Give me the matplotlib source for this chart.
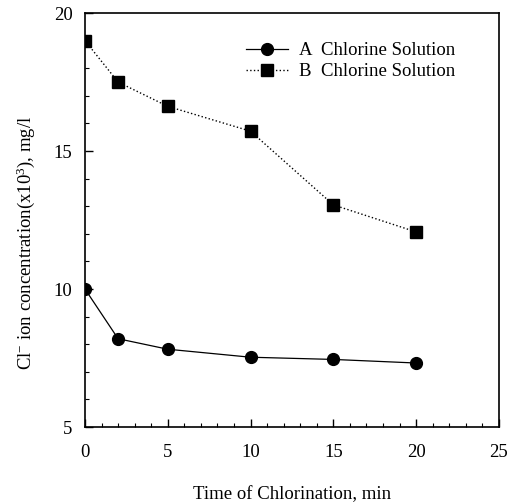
import matplotlib
matplotlib.use("Agg")
import matplotlib.pyplot as plt
from matplotlib.ticker import MultipleLocator

plt.rcParams['font.family'] = ['Liberation Serif', 'DejaVu Serif']
plt.rcParams['mathtext.fontset'] = 'custom'
plt.rcParams['mathtext.rm'] = 'Liberation Serif'
plt.rcParams['mathtext.it'] = 'Liberation Serif:italic'

time_a = [0, 2, 5, 10, 15, 20]
conc_a = [10.0, 8.2, 7.82, 7.53, 7.45, 7.32]
time_b = [0, 2, 5, 10, 15, 20]
conc_b = [19.0, 17.5, 16.62, 15.72, 13.05, 12.07]
label_a = "A  Chlorine Solution"
label_b = "B  Chlorine Solution"

fig = plt.figure(figsize=(5.17, 5.03), dpi=100)
ax = fig.add_axes([0.1644, 0.151, 0.8006, 0.823])

ax.plot(time_a, conc_a, color='black', lw=0.9, marker='o', ms=8.5, label=label_a)
ax.plot(time_b, conc_b, color='black', lw=1.0, ls=':', marker='s', ms=8, label=label_b)

ax.set_xlim(0, 25)
ax.set_ylim(5, 20)
ax.xaxis.set_major_locator(MultipleLocator(5))
ax.xaxis.set_minor_locator(MultipleLocator(1))
ax.yaxis.set_major_locator(MultipleLocator(5))
ax.yaxis.set_minor_locator(MultipleLocator(1))
ax.tick_params(which='both', direction='in', labelsize=13.5, top=False, right=False)
ax.tick_params(which='major', length=6, width=1)
ax.tick_params(axis='x', which='major', pad=12)
ax.tick_params(axis='y', which='major', pad=9)
ax.tick_params(which='minor', length=3, width=0.8)
for s in ax.spines.values():
    s.set_linewidth(1.2)

ax.set_xlabel("Time of Chlorination, min", fontsize=13.5, labelpad=18)
ax.set_ylabel(r"Cl$^{-}$ ion concentration(x10$^{3}$), mg/l", fontsize=13.5)
ax.yaxis.set_label_coords(-0.115, 0.445)

leg = ax.legend(loc='upper right', bbox_to_anchor=(0.935, 0.97), frameon=False,
                fontsize=13.5, handlelength=2.2, handletextpad=0.6, labelspacing=0.2)

fig.savefig("out.png", dpi=100)
